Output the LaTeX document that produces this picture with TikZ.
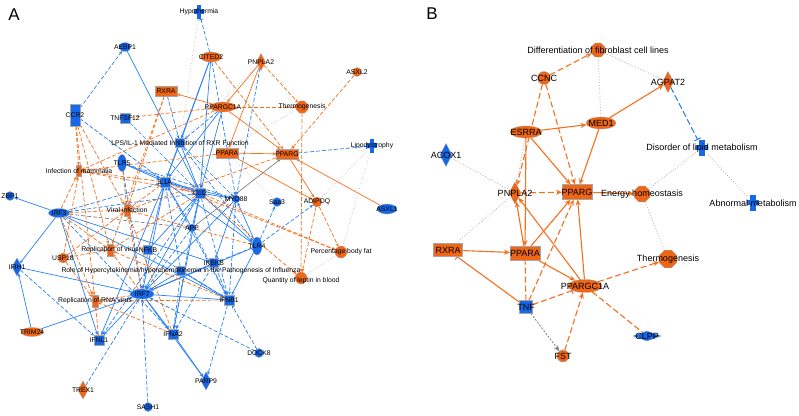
\documentclass[tikz,border=0pt]{standalone}
\usepackage{fontspec}
\setmainfont{Liberation Sans}
\usetikzlibrary{shapes.geometric,arrows.meta,backgrounds}
\definecolor{nor}{RGB}{238,102,22}
\definecolor{nbl}{RGB}{22,104,232}
\definecolor{lor}{RGB}{245,112,30}
\definecolor{lbl}{RGB}{40,128,245}
\definecolor{lgr}{RGB}{175,175,175}
\begin{document}
\begin{tikzpicture}[x=1pt,y=-1pt,
  nd/.style={draw=gray!70, line width=0.3pt, inner sep=0pt, outer sep=0pt},
  OR/.style={nd, fill=nor}, BL/.style={nd, fill=nbl},
  sz/.style 2 args={minimum width=#1pt, minimum height=#2pt},
  oct/.style={regular polygon, regular polygon sides=8},
  la/.style={font=\fontsize{6.8}{7}\selectfont, inner sep=0pt},
  lb/.style={font=\fontsize{9}{9}\selectfont, inner sep=0pt},
  crsA/.style={rectangle, inner sep=0pt, minimum width=10pt, minimum height=14pt,
    path picture={\fill[nbl] (path picture bounding box.north) ++(-2.2,0) rectangle ++(4.4,14);
      \fill[nbl] (path picture bounding box.west) ++(0,-2.6) rectangle ++(10,4.2);}},
  crsB/.style={rectangle, inner sep=0pt, minimum width=12pt, minimum height=16pt,
    path picture={\fill[nbl] (path picture bounding box.north) ++(-2.7,0) rectangle ++(5.4,16);
      \fill[nbl] (path picture bounding box.west) ++(0,-3) rectangle ++(12,5);}},
  tipA/.style={-{Stealth[length=3.6pt,width=3pt]}},
  tipB/.style={-{Stealth[length=6pt,width=5pt]}},
  barA/.style={-{Bar[width=5pt,line width=0.8pt]}},
  barB/.style={-{Bar[width=7pt,line width=1pt]}},
  dA/.style={dash pattern=on 4pt off 2pt},
  dB/.style={dash pattern=on 6pt off 3pt},
  bs/.style={draw=lbl, line width=0.7pt, tipA},
  bd/.style={bs, dA},
  os/.style={draw=lor, line width=0.7pt, tipA},
  od/.style={os, dA},
  gd/.style={draw=lgr, line width=0.6pt, dotted},
  Bos/.style={draw=lor, line width=1.1pt, tipB},
  Bod/.style={Bos, dB},
  Bgd/.style={draw=lgr, line width=0.8pt, dotted}
]
\useasboundingbox (0,0) rectangle (799,415);
\node[font=\fontsize{17}{17}\selectfont, inner sep=0pt] (labA) at (14,15) {A};
\node[font=\fontsize{17}{17}\selectfont, inner sep=0pt] (labB) at (432,14) {B};

% ---------------- Panel A nodes ----------------
\node[crsA, label={[la]center:Hypothermia}] (hyp) at (199,12) {};
\node[BL, ellipse, sz={12}{9}, label={[la]center:AEBP1}] (aebp) at (125,47) {};
\node[OR, ellipse, sz={21}{10}, label={[la]center:CITED2}] (cited) at (211,57) {};
\node[OR, diamond, sz={9}{17}, label={[la]center:PNPLA2}] (pnplaA) at (261,62) {};
\node[OR, circle, sz={9}{9}, label={[la]center:ASXL2}] (asxl2) at (357,72) {};
\node[OR, rectangle, sz={22}{10}, label={[la]center:RXRA}] (rxraA) at (166,91) {};
\node[OR, ellipse, sz={26}{10}, label={[la]center:PPARGC1A}] (pgc) at (223,107) {};
\node[OR, oct, sz={13}{13}, label={[la]center:Thermogenesis}] (thermA) at (302,107) {};
\node[BL, rectangle, sz={10}{22}, label={[la]center:CCR2}] (ccr2) at (75,115) {};
\node[BL, rectangle, sz={10}{10}, label={[la]center:TNFSF12}] (tnfsf) at (125,118) {};
\node[BL, rectangle, sz={9}{9}, label={[la]center:LPS/IL-1 Mediated Inhibition of RXR Function}] (lps) at (180,143) {};
\node[OR, rectangle, sz={22}{10}, label={[la]center:PPARA}] (pparaA) at (227,153) {};
\node[OR, rectangle, sz={22}{10}, label={[la]center:PPARG}] (ppargA) at (287,154) {};
\node[crsA, label={[la]center:Lipodystrophy}] (lipo) at (372,146) {};
\node[OR, rectangle, sz={5}{11}, label={[la]center:Infection of mammalia}] (infm) at (79,171) {};
\node[BL, ellipse, sz={9}{17}, label={[la]center:TLR5}] (tlr5) at (122,163) {};
\node[BL, rectangle, sz={10}{10}, label={[la]center:IL1A}] (il1a) at (165,182) {};
\node[BL, rectangle, sz={10}{10}, label={[la]center:Ccl2}] (ccl2) at (200,193) {};
\node[BL, circle, sz={8}{8}, label={[la]center:MYD88}] (myd) at (236,199) {};
\node[BL, circle, sz={9}{9}, label={[la]center:Saa3}] (saa3) at (277,202) {};
\node[OR, circle, sz={10}{10}, label={[la]center:ADIPOQ}] (adipoq) at (317,202) {};
\node[BL, ellipse, sz={20}{10}, label={[la]center:ASXL1}] (asxl1) at (387,209) {};
\node[BL, circle, sz={9}{9}, label={[la]center:ZBP1}] (zbp1) at (10,196) {};
\node[BL, ellipse, sz={21}{9}, label={[la]center:IRF3}] (irf3) at (59,213) {};
\node[OR, rectangle, sz={6}{12}, label={[la]center:Viral infection}] (vinf) at (127,210) {};
\node[BL, circle, sz={8}{8}, label={[la]center:APP}] (app) at (192,228) {};
\node[BL, ellipse, sz={10}{18}, label={[la]center:TLR4}] (tlr4) at (257,246) {};
\node[OR, rectangle, sz={6}{12}, label={[la]center:Replication of virus}] (repv) at (110,250) {};
\node[BL, rectangle, sz={9}{9}, label={[la]center:NFKB}] (nfkb) at (148,250) {};
\node[BL, rectangle, sz={9}{9}, label={[la]center:IKBKB}] (ikbkb) at (214,263) {};
\node[BL, rectangle, sz={9}{9}, label={[la]center:Role of Hypercytokinemia/hyperchemokinemia in the Pathogenesis of Influenza}] (role) at (181,271) {};
\node[OR, circle, sz={12}{12}, label={[la]center:Percentage body fat}] (pbf) at (341,252) {};
\node[OR, circle, sz={12}{12}, label={[la,yshift=-2.5pt]center:Quantity of leptin in blood}] (qlep) at (301,278) {};
\node[BL, ellipse, sz={24}{10}, label={[la]center:IRF7}] (irf7) at (142,294) {};
\node[BL, diamond, sz={10}{18}, label={[la]center:IFIH1}] (ifih1) at (17,267) {};
\node[OR, circle, sz={10}{10}, label={[la]center:USP18}] (usp18) at (63,258) {};
\node[OR, rectangle, sz={6}{12}, label={[la]center:Replication of RNA virus}] (reprna) at (95,301) {};
\node[OR, ellipse, sz={22}{9}, label={[la]center:TRIM24}] (trim24) at (32,332) {};
\node[BL, rectangle, sz={10}{10}, label={[la]center:IFNL1}] (ifnl1) at (99,340) {};
\node[BL, rectangle, sz={10}{10}, label={[la]center:IFNA2}] (ifna2) at (173,334) {};
\node[BL, rectangle, sz={10}{10}, label={[la]center:IFNB1}] (ifnb1) at (229,300) {};
\node[BL, circle, sz={9}{9}, label={[la]center:DOCK8}] (dock8) at (259,353) {};
\node[BL, diamond, sz={10}{18}, label={[la]center:PARP9}] (parp9) at (206,381) {};
\node[OR, diamond, sz={10}{18}, label={[la]center:TREX1}] (trex1) at (83,390) {};
\node[BL, circle, sz={9}{9}, label={[la]center:SASH1}] (sash1) at (148,407) {};

% ---------------- Panel B nodes ----------------
\node[OR, oct, sz={15}{15}, label={[lb]center:Differentiation of fibroblast cell lines}] (diff) at (598,50) {};
\node[OR, circle, sz={13}{13}, label={[lb]center:CCNC}] (ccnc) at (544,78) {};
\node[OR, diamond, sz={11}{21}, label={[lb]center:AGPAT2}] (agpat) at (668,82) {};
\node[OR, ellipse, sz={30}{12}, label={[lb]center:MED1}] (med1) at (601,123) {};
\node[OR, ellipse, sz={32}{12}, label={[lb]center:ESRRA}] (esrra) at (526,132) {};
\node[BL, diamond, sz={12}{23}, label={[lb]center:ACOX1}] (acox) at (446,155) {};
\node[crsB, label={[lb]center:Disorder of lipid metabolism}] (disorder) at (702,148) {};
\node[OR, diamond, sz={12}{22}, label={[lb]center:PNPLA2}] (pnplaB) at (515,193) {};
\node[OR, rectangle, sz={30}{15}, label={[lb]center:PPARG}] (ppargB) at (577,192) {};
\node[OR, oct, sz={17}{17}, label={[lb]center:Energy homeostasis}] (energy) at (642,194) {};
\node[crsB, label={[lb]center:Abnormal metabolism}] (abn) at (753,203) {};
\node[OR, rectangle, sz={29}{13}, label={[lb]center:RXRA}] (rxraB) at (448,250) {};
\node[OR, rectangle, sz={30}{14}, label={[lb]center:PPARA}] (pparaB) at (525,253) {};
\node[OR, ellipse, sz={34}{13}, label={[lb]center:PPARGC1A}] (pgcB) at (585,286) {};
\node[OR, oct, sz={19}{19}, label={[lb]center:Thermogenesis}] (thermB) at (668,259) {};
\node[BL, rectangle, sz={13}{13}, label={[lb]center:TNF}] (tnf) at (526,307) {};
\node[OR, circle, sz={12}{12}, label={[lb]center:FST}] (fst) at (563,356) {};
\node[BL, diamond, sz={28}{10}, label={[lb]center:CLPP}] (clpp) at (647,336) {};

\begin{pgfonlayer}{background}
% ---- Panel A edges ----
\foreach \a/\b in {hyp/lps, pnplaA/lps, thermA/il1a, pparaA/saa3, adipoq/lipo, qlep/pbf, ccr2/il1a, lps/rxraA, pbf/lipo}
  \draw[gd] (\a) -- (\b);
\foreach \a/\b in {aebp/ccl2, cited/lps, cited/ccl2, cited/il1a, pgc/ccl2, pgc/il1a, lps/il1a,
  tlr5/il1a, tlr5/ccl2, il1a/ccl2, il1a/myd, ccl2/myd, tlr4/myd, il1a/tlr4, ccl2/tlr4, app/il1a, app/ccl2,
  irf3/zbp1, irf3/ifih1, irf3/ifnb1, irf3/ifnl1, irf3/ikbkb, trim24/ifih1, trim24/irf7, ifih1/irf7,
  irf7/ifnl1, irf7/ifna2, irf7/ifnb1, irf7/parp9, ifna2/parp9, il1a/irf7, ccl2/irf7, tlr4/irf7, myd/irf7,
  il1a/ifnl1, nfkb/ccl2, nfkb/il1a, ikbkb/irf7, tlr4/ifnb1, role/irf7, role/ifnb1, ccl2/ifna2, lps/ccl2, myd/ikbkb}
  \draw[bs] (\a) -- (\b);
\foreach \a/\b in {ccr2/aebp, ccr2/il1a, tnfsf/ccl2, rxraA/lps, pnplaA/myd, cited/myd,
  il1a/ifnb1, ccl2/ifnb1, ikbkb/ifnb1, myd/ifnb1, app/ifnb1, app/irf7, app/ifna2,
  tlr4/adipoq, tlr4/saa3, tlr4/ikbkb, ifih1/ifnl1, irf3/il1a, irf3/ccl2, irf3/ifna2,
  trex1/irf7, sash1/irf7, dock8/ifnb1, dock8/irf7, ifnb1/parp9, tlr5/myd, lps/myd, lps/tlr4,
  role/ifna2, role/il1a, nfkb/irf7, nfkb/ifnb1, ikbkb/ifna2, tlr5/irf7, pgc/lps, ccl2/ifnl1}
  \draw[bd] (\a) -- (\b);
\draw[bd, barA] (cited) -- (hyp);
\draw[bd, barA] (ppargA) -- (lipo);
\foreach \a/\b in {pnplaA/pgc, pnplaA/pparaA, pgc/rxraA, pgc/ppargA, pparaA/ppargA, pparaA/adipoq, ppargA/adipoq, asxl1/ppargA}
  \draw[os] (\a) -- (\b);
\foreach \a/\b in {cited/ppargA, pnplaA/thermA, asxl2/ppargA, tnfsf/pgc, pgc/thermA, thermA/qlep, adipoq/pbf, adipoq/qlep,
  ccl2/pbf, ccl2/qlep, rxraA/vinf, rxraA/repv, pparaA/infm, ppargA/vinf, pgc/infm,
  ccr2/infm, ccr2/vinf, ccr2/repv, ccr2/reprna, il1a/infm, il1a/vinf, tlr5/vinf, irf3/vinf, irf3/repv, irf3/reprna, irf3/infm,
  irf7/vinf, irf7/repv, irf7/reprna, usp18/repv, usp18/reprna, usp18/vinf, usp18/infm,
  ifnb1/reprna, ifna2/reprna, ifnl1/reprna, ifnb1/repv, ifna2/vinf, tlr4/vinf, ccl2/infm, ccl2/repv, il1a/pbf}
  \draw[od] (\a) -- (\b);
\draw[draw=gray, line width=0.7pt, tipA] (app) -- (ppargA);
\draw[draw=gray, line width=0.7pt, dA] (irf3) -- (app);

% ---- Panel B edges ----
\foreach \a/\b in {diff/med1, diff/agpat, esrra/pnplaB, acox/pnplaB, rxraB/pnplaB, disorder/energy, disorder/abn, energy/thermB}
  \draw[Bgd] (\a) -- (\b);
\foreach \a/\b in {ccnc/diff, ccnc/pnplaB, ccnc/ppargB, pnplaB/ppargB, pgcB/thermB, tnf/ppargB, fst/pgcB}
  \draw[Bod] (\a) -- (\b);
\foreach \a/\b in {esrra/med1, esrra/ppargB, med1/ppargB, med1/agpat, esrra/pparaB, pparaB/pnplaB, rxraB/pparaB,
  pparaB/pgcB, pparaB/ppargB, pgcB/ppargB, pgcB/pnplaB, ppargB/energy}
  \draw[Bos] (\a) -- (\b);
\draw[Bos, barB] (tnf) -- (rxraB);
\draw[Bod, barB] (tnf) -- (pparaB);
\draw[Bod, barB] (tnf) -- (pgcB);
\draw[draw=lor, line width=1.1pt, dB] (pgcB) -- (clpp);
\draw[draw=lbl, line width=1.1pt, dB, barB] (agpat) -- (disorder);
\draw[draw=gray, line width=0.8pt, dash pattern=on 2pt off 1.5pt, tipB] (tnf) -- (fst);
\end{pgfonlayer}
\end{tikzpicture}
\end{document}
